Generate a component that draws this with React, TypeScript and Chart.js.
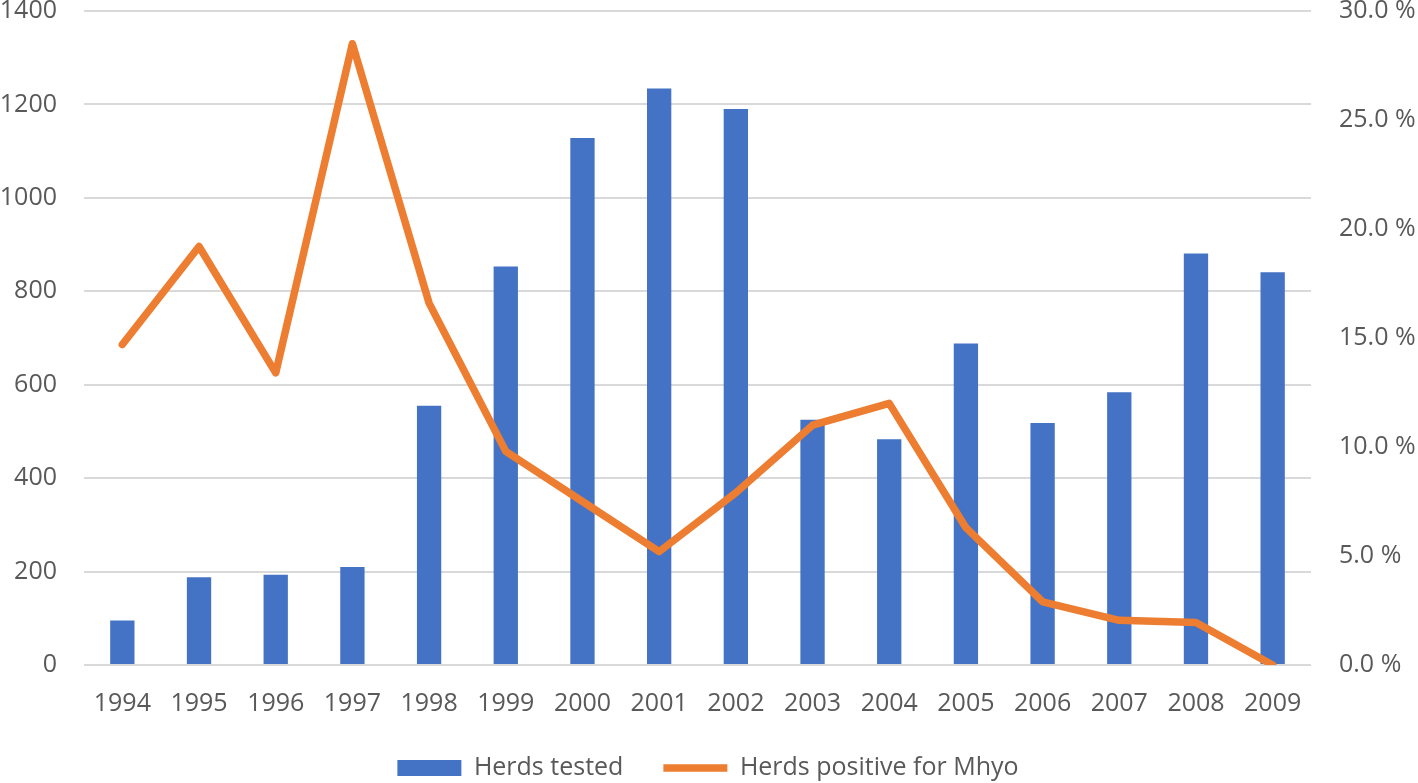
import React, { useEffect, useRef } from "react";
import { Chart, registerables } from "chart.js";

Chart.register(...registerables);

const years = ["1994", "1995", "1996", "1997", "1998", "1999", "2000", "2001", "2002", "2003", "2004", "2005", "2006", "2007", "2008", "2009"];
const herdsTested = [95, 188, 193, 210, 555, 853, 1128, 1234, 1190, 525, 483, 688, 518, 584, 881, 841];
const positivePct = [14.7, 19.2, 13.4, 28.5, 16.6, 9.8, 7.5, 5.2, 7.9, 11.0, 12.0, 6.3, 2.9, 2.05, 1.95, 0.0];
const leftTicks = [0, 200, 400, 600, 800, 1000, 1200, 1400];
const rightTicks = [0, 5, 10, 15, 20, 25, 30];

const FONT = "'Open Sans', sans-serif";
const TEXT = "#595959";
const GRID = "#d9d9d9";

const LEGEND_CENTER_Y = 768;

const legendFit = {
  id: "legendFit",
  beforeInit(chart: any) {
    const legend = chart.legend;
    if (!legend) return;
    const orig = legend.fit;
    legend.fit = function () {
      orig.bind(this)();
      this.height = 68;
    };
  },
  afterUpdate(chart: any) {
    const legend = chart.legend;
    if (!legend || !legend.legendHitBoxes || !legend.legendHitBoxes.length) return;
    const hb = legend.legendHitBoxes[0];
    const center = hb.top + hb.height / 2;
    const d = LEGEND_CENTER_Y - center;
    legend.top += d;
    legend.bottom += d;
    legend.legendHitBoxes.forEach((h: any) => { h.top += d; });
  },
};

export default function App() {
  const ref = useRef<HTMLCanvasElement | null>(null);

  useEffect(() => {
    if (!ref.current) return;
    const chart = new Chart(ref.current, {
      type: "bar",
      plugins: [legendFit],
      data: {
        labels: years,
        datasets: [
          {
            type: "line",
            label: "Herds positive for Mhyo",
            data: positivePct,
            yAxisID: "y1",
            borderColor: "#ED7D31",
            backgroundColor: "#ED7D31",
            borderWidth: 7.5,
            pointRadius: 0,
            pointHoverRadius: 0,
            pointStyle: "line",
            borderCapStyle: "round",
            borderJoinStyle: "round",
            tension: 0,
            order: 0,
          } as any,
          {
            type: "bar",
            label: "Herds tested",
            data: herdsTested,
            yAxisID: "y",
            backgroundColor: "#4472C4",
            borderWidth: 0,
            barPercentage: 0.317,
            categoryPercentage: 1,
            pointStyle: "rect",
            order: 1,
          } as any,
        ],
      },
      options: {
        animation: false,
        responsive: true,
        maintainAspectRatio: false,
        layout: { padding: { left: 0, right: 2, top: 0, bottom: 0 } },
        plugins: {
          tooltip: { enabled: false },
          legend: {
            position: "bottom",
            reverse: true,
            labels: {
              usePointStyle: true,
              pointStyleWidth: 64,
              boxHeight: 16,
              padding: 40,
              color: TEXT,
              font: { family: FONT, size: 25 },
            },
          },
        },
        scales: {
          x: {
            offset: true,
            grid: { display: false, drawTicks: false },
            border: { display: false },
            ticks: { color: TEXT, font: { family: FONT, size: 25, lineHeight: 1.0 }, padding: 26, maxRotation: 0, autoSkip: false },
            afterFit: (s: any) => { s.height = 50; },
          },
          y: {
            position: "left",
            min: 0,
            max: 1400,
            afterBuildTicks: (s: any) => { s.ticks = leftTicks.map((v) => ({ value: v })); },
            grid: { color: GRID, lineWidth: 2, drawTicks: false },
            border: { display: false },
            ticks: {
              color: TEXT,
              font: { family: FONT, size: 25, lineHeight: 0.88 },
              padding: 27,
              callback: (v: any) => String(v),
            },
            afterFit: (s: any) => { s.width = 84; s.paddingTop = 11; s.paddingBottom = 11; },
          },
          y1: {
            position: "right",
            min: 0,
            max: 30,
            afterBuildTicks: (s: any) => { s.ticks = rightTicks.map((v) => ({ value: v })); },
            grid: { display: false, drawTicks: false },
            border: { display: false },
            ticks: {
              color: TEXT,
              font: { family: FONT, size: 25, lineHeight: 0.88 },
              padding: 28,
              callback: (v: any) => Number(v).toFixed(1) + " %",
            },
            afterFit: (s: any) => { s.width = 105; s.paddingTop = 11; s.paddingBottom = 11; },
          },
        },
      } as any,
    });
    return () => chart.destroy();
  }, []);

  return (
    <div style={{ position: "fixed", left: 0, top: 0, width: 1418, height: 783, background: "#fff" }}>
      <canvas ref={ref} />
    </div>
  );
}
